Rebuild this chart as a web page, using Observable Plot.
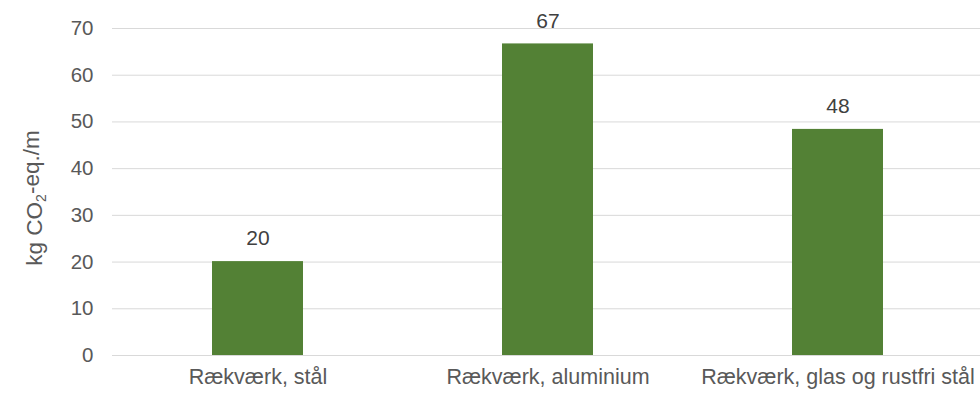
<!DOCTYPE html>
<html><head><meta charset="utf-8">
<script src="https://cdn.jsdelivr.net/npm/d3@7"></script>
<script src="https://cdn.jsdelivr.net/npm/@observablehq/plot@0.6"></script>
<style>body{margin:0;background:#fff;font-family:"Liberation Sans",Arial,sans-serif;}</style>
</head><body><div id="chart"></div>
<script>
const categories = ["Rækværk, stål", "Rækværk, aluminium", "Rækværk, glas og rustfri stål"];
const values = [20.1, 66.7, 48.4];
const labels = ["20", "67", "48"];
const yTicks = [0, 10, 20, 30, 40, 50, 60, 70];
const yTitle = ["kg CO", "2", "-eq./m"];
const data = categories.map((c, i) => ({cat: c, value: values[i], label: labels[i]}));

const chart = Plot.plot({
  width: 980, height: 393,
  marginLeft: 112, marginRight: 0, marginTop: 28, marginBottom: 38,
  style: {fontFamily: '"Liberation Sans", Arial, sans-serif', fontSize: "21px", color: "#595959", background: "#fff"},
  x: {domain: categories, range: [112, 984], paddingInner: 0.686, paddingOuter: 0.343, label: null},
  y: {domain: [0, 70], label: null},
  marks: [
    Plot.gridY(yTicks, {stroke: "#d9d9d9", strokeOpacity: 1, strokeWidth: 1}),
    Plot.barY(data, {x: "cat", y: "value", fill: "#538135"}),
    Plot.text(data, {x: "cat", y: "value", text: "label", dy: -23, fill: "#404040", fontSize: 21}),
    Plot.axisY({ticks: yTicks, tickSize: 0, tickPadding: 19, label: null, fontSize: 20.5}),
    Plot.axisX({tickSize: 0, tickPadding: 13, label: null, fontSize: 21.5}),
    Plot.text([yTitle.join("")], {frameAnchor: "left", dx: -78, dy: 6, rotate: -90, textAnchor: "middle", fill: "#595959", fontSize: 22.5, className: "ytitle"})
  ]
});
document.getElementById("chart").appendChild(chart);
// subscript in the axis title
d3.select(chart).selectAll(".ytitle text").each(function() {
  const t = d3.select(this);
  t.text(null);
  t.append("tspan").text(yTitle[0]);
  t.append("tspan").attr("font-size", 14).attr("dy", "0.3em").text(yTitle[1]);
  t.append("tspan").attr("dy", "-0.3em").text(yTitle[2]);
});
</script>
</body></html>
